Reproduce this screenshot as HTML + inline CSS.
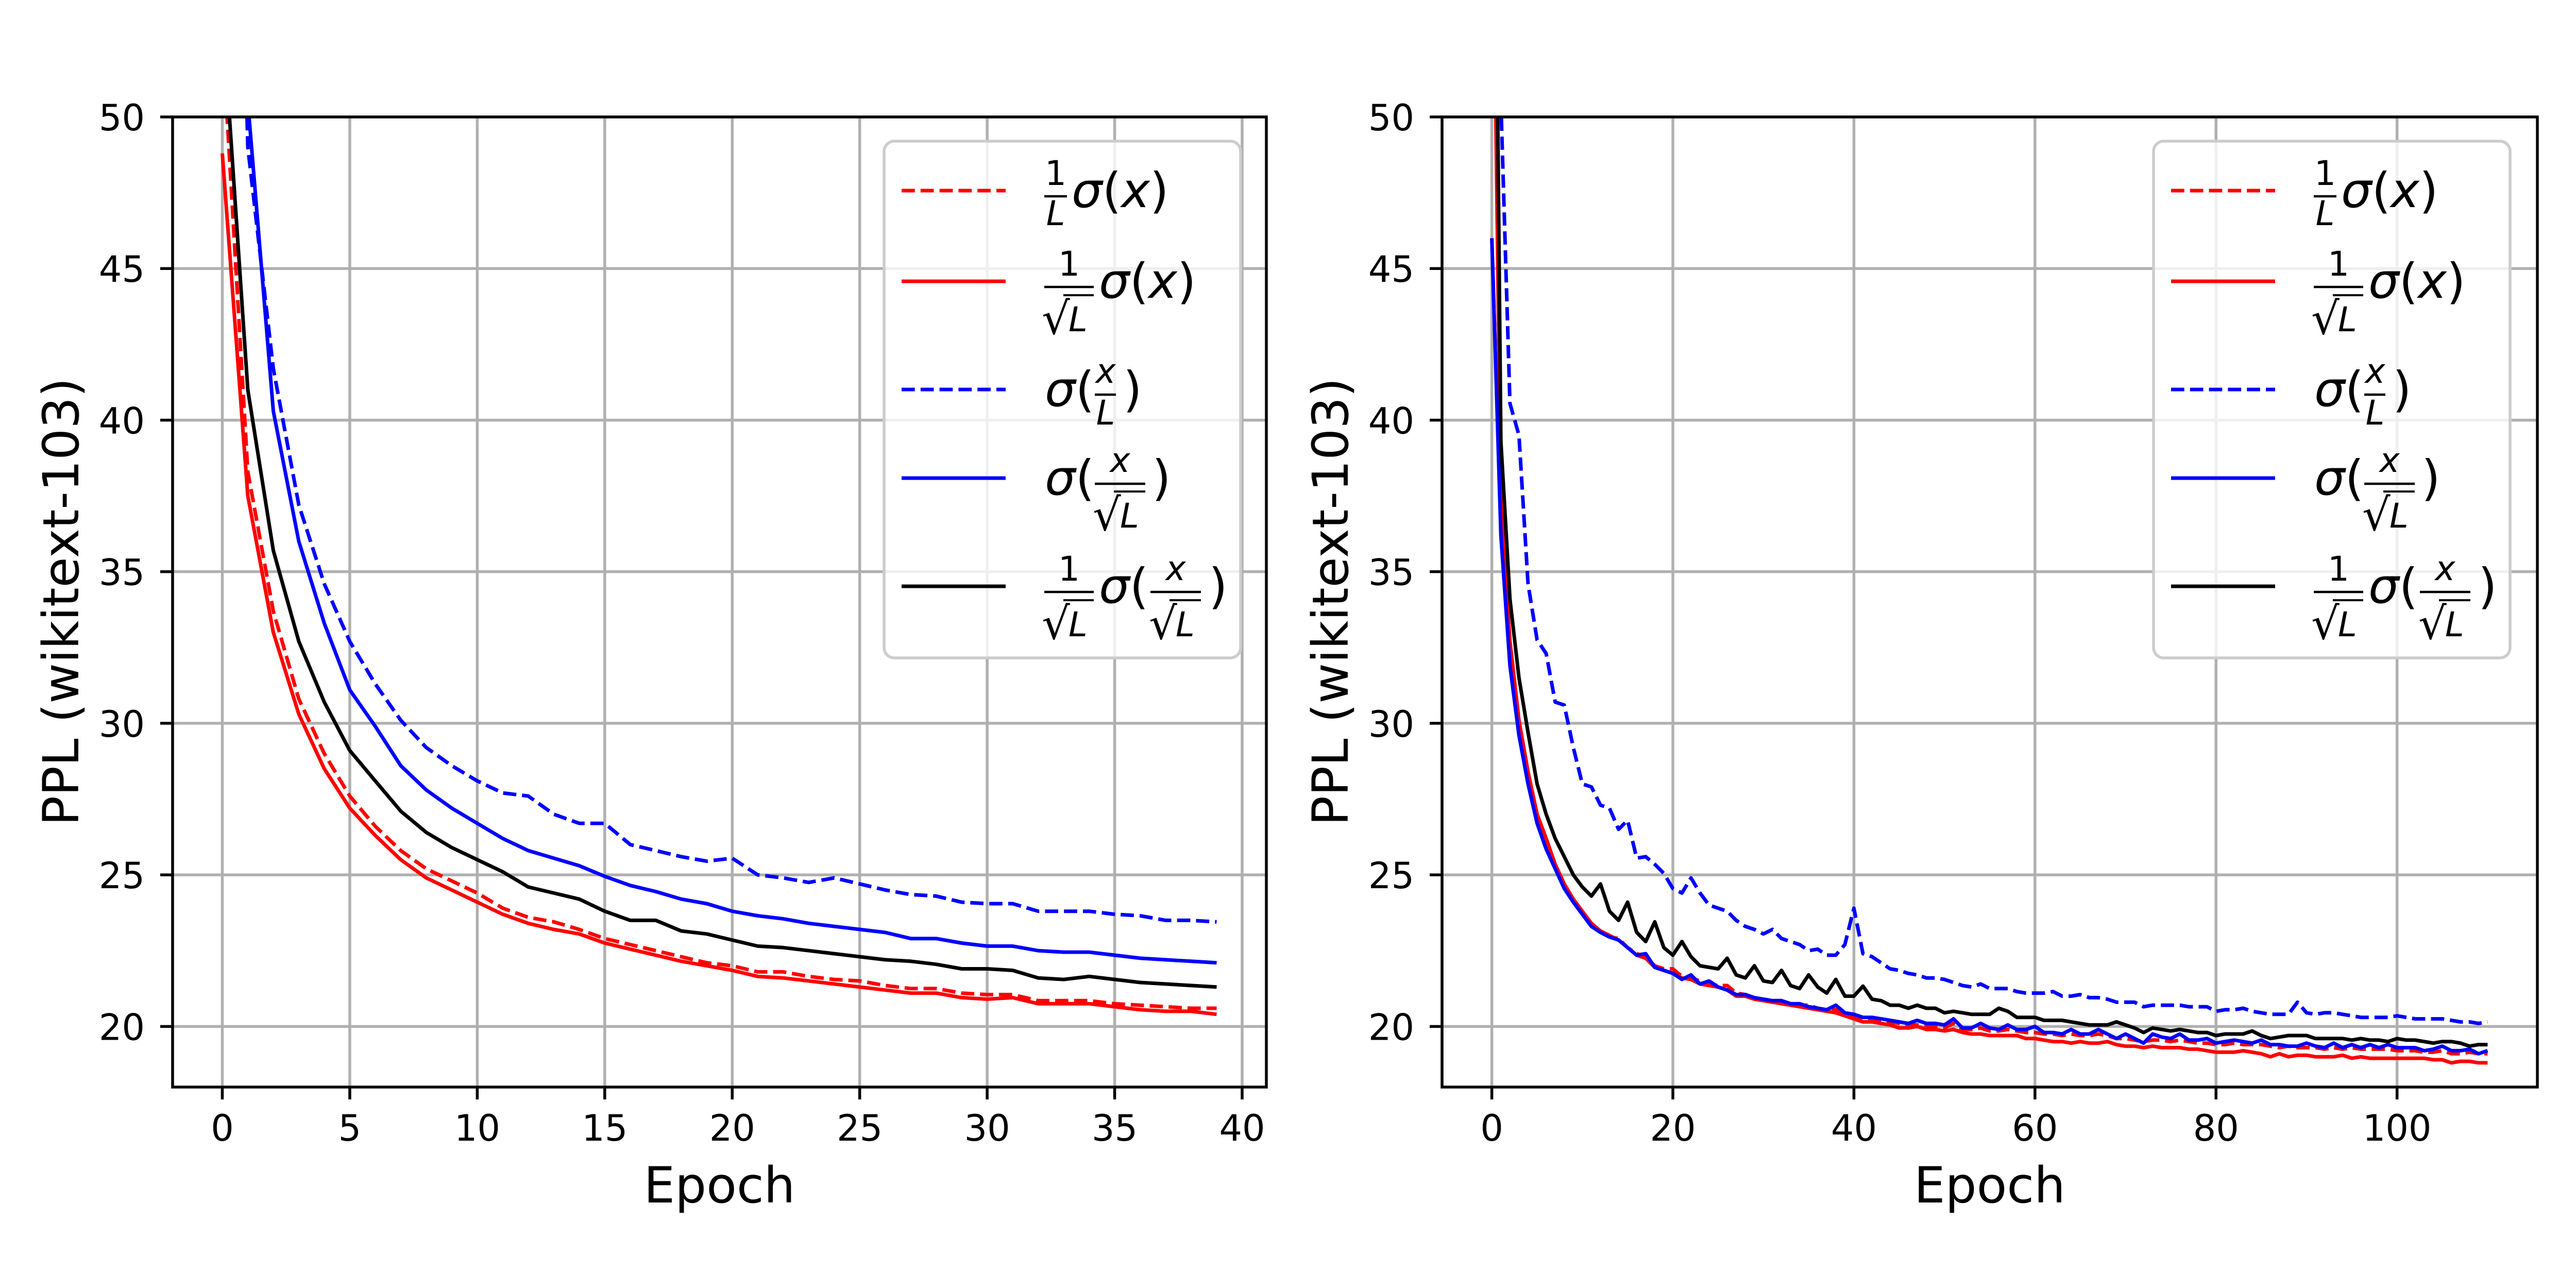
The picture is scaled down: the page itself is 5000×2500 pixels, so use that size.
<!DOCTYPE html>
<html>
<head>
<meta charset="utf-8">
<style>
html,body{margin:0;padding:0;background:#fff;}
svg{display:block;}
text{font-family:"DejaVu Sans","Liberation Sans",sans-serif;}
.it{font-style:oblique;}
</style>
</head>
<body>
<svg id="fig" xmlns="http://www.w3.org/2000/svg" width="5000" height="2500" viewBox="0 0 5000 2500">
<rect x="0" y="0" width="5000" height="2500" fill="#fff"/>
<defs>
<clipPath id="clipL"><rect x="335" y="227" width="2123" height="1883"/></clipPath>
<clipPath id="clipR"><rect x="2799" y="227" width="2126" height="1883"/></clipPath>
</defs>
<g id="root"></g>
</svg>
<script>
// ---------- Data ----------
const yTicks = [20, 25, 30, 35, 40, 45, 50];
const xTicksLeft = [0, 5, 10, 15, 20, 25, 30, 35, 40];
const xTicksRight = [0, 20, 40, 60, 80, 100];
const yLabel = "PPL (wikitext-103)";
const xLabel = "Epoch";

const leftRedDashed = [52.7,38.3,33.7,30.8,29.0,27.6,26.6,25.8,25.2,24.8,24.4,23.9,23.6,23.45,23.2,22.9,22.7,22.5,22.3,22.1,22.0,21.8,21.8,21.65,21.55,21.5,21.35,21.25,21.25,21.1,21.05,21.05,20.85,20.85,20.85,20.75,20.7,20.65,20.6,20.6];
const leftRedSolid = [48.8,37.5,33,30.3,28.5,27.2,26.3,25.5,24.9,24.5,24.1,23.7,23.4,23.2,23.05,22.75,22.55,22.35,22.15,22.0,21.85,21.65,21.6,21.5,21.4,21.3,21.2,21.1,21.1,20.95,20.9,20.95,20.75,20.75,20.75,20.65,20.55,20.5,20.5,20.4];
const leftBlueDashed = [80,49,41.7,37.2,34.6,32.7,31.3,30.1,29.2,28.6,28.1,27.7,27.6,27.0,26.7,26.7,26.0,25.8,25.6,25.45,25.55,25.0,24.9,24.75,24.9,24.7,24.5,24.35,24.3,24.1,24.05,24.05,23.8,23.8,23.8,23.7,23.65,23.5,23.5,23.45];
const leftBlueSolid = [85,50.5,40.3,36.0,33.3,31.1,29.9,28.6,27.8,27.2,26.7,26.2,25.8,25.55,25.3,24.95,24.65,24.45,24.2,24.05,23.8,23.65,23.55,23.4,23.3,23.2,23.1,22.9,22.9,22.75,22.65,22.65,22.5,22.45,22.45,22.35,22.25,22.2,22.15,22.1];
const leftBlack = [53.5,41.0,35.7,32.7,30.7,29.1,28.1,27.1,26.4,25.9,25.5,25.1,24.6,24.4,24.2,23.8,23.5,23.5,23.15,23.05,22.85,22.65,22.6,22.5,22.4,22.3,22.2,22.15,22.05,21.9,21.9,21.85,21.6,21.55,21.65,21.55,21.45,21.4,21.35,21.3];

const rightRedDashed = [46,36.5,32.2,29.8,28.1,26.8,26.0,25.25,24.6,24.15,23.75,23.35,23.1,22.95,22.9,22.6,22.4,22.3,22.0,21.9,21.9,21.65,21.6,21.5,21.4,21.35,21.35,21.1,21.05,20.95,20.9,20.85,20.85,20.75,20.7,20.7,20.6,20.55,20.55,20.45,
20.35,20.25,20.25,20.2,20.15,20.1,20.05,20.05,20.0,20.0,
19.95,20.1,19.9,19.9,19.95,19.85,19.85,19.9,19.85,19.8,
19.8,19.75,19.75,19.7,19.75,19.7,19.7,19.75,19.7,19.6,
19.6,19.55,19.5,19.55,19.55,19.5,19.55,19.5,19.45,19.45,
19.4,19.4,19.45,19.4,19.4,19.4,19.35,19.3,19.35,19.3,
19.3,19.3,19.25,19.3,19.25,19.3,19.25,19.25,19.25,19.25,
19.2,19.2,19.2,19.15,19.15,19.2,19.1,19.1,19.15,19.1,19.1];
const rightRedSolid = [60,37.3,32.7,30.1,28.4,27.0,26.2,25.35,24.7,24.2,23.8,23.4,23.15,23.0,22.85,22.6,22.35,22.25,21.95,21.85,21.75,21.6,21.55,21.4,21.35,21.3,21.2,21.0,21.0,20.9,20.85,20.8,20.75,20.7,20.65,20.6,20.55,20.5,20.45,20.35,
20.25,20.15,20.15,20.1,20.05,19.95,19.95,20.0,19.9,19.9,
19.85,19.9,19.8,19.75,19.75,19.7,19.7,19.7,19.7,19.6,
19.6,19.55,19.5,19.5,19.45,19.5,19.45,19.45,19.5,19.4,
19.35,19.35,19.3,19.35,19.3,19.3,19.3,19.25,19.25,19.2,
19.15,19.15,19.15,19.2,19.15,19.1,19.0,19.1,19.0,19.05,
19.05,19.0,19.0,19.0,19.05,18.95,19.0,18.95,18.95,18.95,
18.95,18.95,18.95,18.95,18.9,18.9,18.8,18.85,18.85,18.8,18.8];
const rightBlueDashed = [90,50.5,40.55,39.5,34.6,32.75,32.3,30.7,30.6,29.2,
28.0,27.9,27.3,27.2,26.5,26.8,25.55,25.6,25.35,25.05,
24.55,24.4,24.9,24.4,24.0,23.9,23.8,23.5,23.3,23.2,
23.05,23.2,22.9,22.8,22.7,22.5,22.55,22.35,22.35,22.7,
23.9,22.4,22.3,22.1,21.9,21.85,21.75,21.7,21.6,21.6,
21.55,21.45,21.35,21.3,21.4,21.25,21.25,21.25,21.15,21.1,
21.1,21.1,21.15,21.0,21.0,21.05,20.95,20.95,20.9,20.8,
20.8,20.8,20.65,20.7,20.7,20.7,20.7,20.65,20.65,20.65,
20.5,20.55,20.55,20.6,20.5,20.45,20.4,20.4,20.4,20.8,
20.45,20.4,20.45,20.45,20.4,20.35,20.3,20.3,20.3,20.3,
20.35,20.3,20.25,20.25,20.25,20.25,20.2,20.15,20.15,20.1,20.15];
const rightBlueSolid = [46,36.2,31.9,29.6,28.0,26.7,25.85,25.2,24.55,24.1,
23.7,23.3,23.1,22.95,22.85,22.6,22.35,22.4,21.95,21.85,
21.75,21.55,21.7,21.4,21.5,21.3,21.2,21.05,21.05,20.95,
20.9,20.85,20.85,20.75,20.75,20.65,20.6,20.55,20.7,20.45,
20.4,20.3,20.3,20.25,20.2,20.15,20.1,20.2,20.1,20.1,
20.05,20.25,19.95,19.95,20.1,19.95,19.9,20.05,19.9,19.9,
20.0,19.8,19.8,19.75,19.9,19.75,19.75,19.9,19.75,19.6,
19.75,19.6,19.45,19.75,19.65,19.6,19.75,19.55,19.55,19.6,
19.45,19.5,19.55,19.5,19.45,19.55,19.4,19.4,19.35,19.35,
19.45,19.35,19.3,19.45,19.3,19.4,19.3,19.4,19.3,19.4,
19.3,19.3,19.3,19.2,19.25,19.35,19.2,19.2,19.25,19.1,19.2];
const rightBlack = [70,39.3,34.1,31.5,29.7,28.0,27.0,26.2,25.6,25.0,
24.6,24.3,24.7,23.8,23.5,24.1,23.1,22.8,23.45,22.6,
22.35,22.8,22.3,22.0,21.95,21.9,22.25,21.7,21.6,22.0,
21.5,21.45,21.85,21.35,21.25,21.7,21.3,21.1,21.55,21.0,
21.0,21.33,20.9,20.85,20.7,20.7,20.6,20.7,20.6,20.6,
20.45,20.5,20.45,20.4,20.4,20.4,20.6,20.5,20.3,20.3,
20.3,20.2,20.2,20.2,20.15,20.1,20.05,20.05,20.05,20.15,
20.05,19.95,19.8,19.95,19.9,19.85,19.9,19.85,19.8,19.8,
19.7,19.75,19.75,19.75,19.85,19.7,19.6,19.65,19.7,19.7,
19.7,19.6,19.6,19.6,19.6,19.55,19.6,19.55,19.55,19.5,
19.6,19.55,19.55,19.5,19.45,19.5,19.5,19.45,19.35,19.4,19.4];

// ---------- Helpers ----------
const NS = "http://www.w3.org/2000/svg";
const root = document.getElementById('root');
function mk(tag, attrs, parent) {
  const e = document.createElementNS(NS, tag);
  for (const k in attrs) e.setAttribute(k, attrs[k]);
  (parent || root).appendChild(e);
  return e;
}
const Y0 = 227, Y1 = 2110, YMIN = 18, YMAX = 50;
function yScale(v) { return Y1 - (v - YMIN) / (YMAX - YMIN) * (Y1 - Y0); }

function drawPanel(cfg) {
  const xs = v => cfg.x0 + (v - cfg.xmin) / (cfg.xmax - cfg.xmin) * (cfg.x1 - cfg.x0);
  const panel = mk('g', {});
  
  
  const grid = mk('g', {stroke: '#b0b0b0', 'stroke-width': 5.5}, panel);
  
  
  cfg.xticks.forEach(t => {
    const gl = mk('line', {x1: xs(t), x2: xs(t), y1: Y0, y2: Y1}, grid);
    
    
  });
  yTicks.forEach(t => {
    const gl = mk('line', {x1: cfg.x0, x2: cfg.x1, y1: yScale(t), y2: yScale(t)}, grid);
    
    
  });
  const sg = mk('g', {'clip-path': 'url(#' + cfg.clip + ')', fill: 'none', 'stroke-width': 7, 'stroke-linejoin': 'round'}, panel);
  
  
  cfg.series.forEach(s => {
    const d = s.data.map((v, i) => (i ? 'L' : 'M') + xs(i).toFixed(1) + ' ' + yScale(v).toFixed(1)).join(' ');
    const p = mk('path', {d: d, stroke: s.color}, sg);
    if (s.dash) { p.setAttribute('stroke-dasharray', '25.7 11.1'); p.setAttribute('stroke-linecap', 'butt'); }
    
    
  });
  const sp = mk('rect', {x: cfg.x0, y: Y0, width: cfg.x1 - cfg.x0, height: Y1 - Y0, fill: 'none', stroke: '#000', 'stroke-width': 5.5}, panel);
  
  
  const tg = mk('g', {}, panel);
  
  
  cfg.xticks.forEach(t => {
    const tl = mk('line', {x1: xs(t), x2: xs(t), y1: Y1, y2: Y1 + 24, stroke: '#000', 'stroke-width': 5.5}, tg);
    
    
    const tx = mk('text', {x: xs(t), y: 2214, 'font-size': 70, 'text-anchor': 'middle', fill: '#000'}, tg);
    tx.textContent = String(t);
    
    
  });
  yTicks.forEach(t => {
    const tl = mk('line', {x1: cfg.x0 - 24, x2: cfg.x0, y1: yScale(t), y2: yScale(t), stroke: '#000', 'stroke-width': 5.5}, tg);
    
    
    const tx = mk('text', {x: cfg.x0 - 54, y: yScale(t) + 26, 'font-size': 70, 'text-anchor': 'end', fill: '#000'}, tg);
    tx.textContent = String(t);
    
    
  });
  const xl = mk('text', {x: (cfg.x0 + cfg.x1) / 2, y: 2334, 'font-size': 96, 'text-anchor': 'middle', fill: '#000'}, panel);
  xl.textContent = xLabel;
  
  
  const yl = mk('text', {x: 0, y: 0, 'font-size': 96, 'text-anchor': 'middle', fill: '#000', transform: 'translate(' + cfg.ylabelX + ',1168) rotate(-90)'}, panel);
  yl.textContent = yLabel;
  
  
  drawLegend(panel, cfg.x0 - 335);
}

function drawLegend(parent, dx) {
  const g = mk('g', {transform: 'translate(' + dx + ',0)'}, parent);
  
  
  g.innerHTML =
  '<rect x="1716" y="274" width="692" height="1003" rx="20" fill="rgba(255,255,255,0.8)" stroke="#cccccc" stroke-width="5.5"/>' +
  '<g>' +
  '<line x1="1750" x2="1952" y1="370" y2="370" stroke="#ff0000" stroke-width="7" stroke-dasharray="25.7 11.1"/>' +
  '<text x="2049" y="359" font-size="66" text-anchor="middle">1</text>' +
  '<line x1="2027" x2="2071" y1="381" y2="381" stroke="#000" stroke-width="4.5"/>' +
  '<text x="2049" y="437" font-size="66" text-anchor="middle" class="it">L</text>' +
  '<text x="2080" y="402" font-size="94"><tspan class="it">σ</tspan>(<tspan class="it">x</tspan>)</text>' +
  '</g>' +
  '<g>' +
  '<line x1="1750" x2="1952" y1="546" y2="546" stroke="#ff0000" stroke-width="7"/>' +
  '<text x="2075" y="535" font-size="66" text-anchor="middle">1</text>' +
  '<line x1="2027" x2="2123" y1="557" y2="557" stroke="#000" stroke-width="4.5"/>' +
  '<text x="2022" y="648" font-size="86">√</text>' +
  '<line x1="2064" x2="2123" y1="573" y2="573" stroke="#000" stroke-width="4"/>' +
  '<text x="2074" y="643" font-size="66" class="it">L</text>' +
  '<text x="2133" y="578" font-size="94"><tspan class="it">σ</tspan>(<tspan class="it">x</tspan>)</text>' +
  '</g>' +
  '<g>' +
  '<line x1="1750" x2="1952" y1="756" y2="756" stroke="#0000ff" stroke-width="7" stroke-dasharray="25.7 11.1"/>' +
  '<text x="2028" y="788" font-size="94"><tspan class="it">σ</tspan>(</text>' +
  '<text x="2146" y="743" font-size="66" text-anchor="middle" class="it">x</text>' +
  '<line x1="2125" x2="2166" y1="766" y2="766" stroke="#000" stroke-width="4.5"/>' +
  '<text x="2146" y="824" font-size="66" text-anchor="middle" class="it">L</text>' +
  '<text x="2180" y="788" font-size="94">)</text>' +
  '</g>' +
  '<g>' +
  '<line x1="1750" x2="1952" y1="928" y2="928" stroke="#0000ff" stroke-width="7"/>' +
  '<text x="2028" y="960" font-size="94"><tspan class="it">σ</tspan>(</text>' +
  '<text x="2174" y="916" font-size="66" text-anchor="middle" class="it">x</text>' +
  '<line x1="2125" x2="2223" y1="939" y2="939" stroke="#000" stroke-width="4.5"/>' +
  '<text x="2121" y="1029" font-size="86">√</text>' +
  '<line x1="2162" x2="2223" y1="954" y2="954" stroke="#000" stroke-width="4"/>' +
  '<text x="2174" y="1024" font-size="66" class="it">L</text>' +
  '<text x="2236" y="960" font-size="94">)</text>' +
  '</g>' +
  '<g>' +
  '<line x1="1750" x2="1952" y1="1138" y2="1138" stroke="#000000" stroke-width="7"/>' +
  '<text x="2075" y="1127" font-size="66" text-anchor="middle">1</text>' +
  '<line x1="2027" x2="2123" y1="1149" y2="1149" stroke="#000" stroke-width="4.5"/>' +
  '<text x="2022" y="1240" font-size="86">√</text>' +
  '<line x1="2064" x2="2123" y1="1165" y2="1165" stroke="#000" stroke-width="4"/>' +
  '<text x="2074" y="1235" font-size="66" class="it">L</text>' +
  '<text x="2133" y="1170" font-size="94"><tspan class="it">σ</tspan>(</text>' +
  '<text x="2282" y="1126" font-size="66" text-anchor="middle" class="it">x</text>' +
  '<line x1="2233" x2="2331" y1="1149" y2="1149" stroke="#000" stroke-width="4.5"/>' +
  '<text x="2230" y="1240" font-size="86">√</text>' +
  '<line x1="2270" x2="2331" y1="1165" y2="1165" stroke="#000" stroke-width="4"/>' +
  '<text x="2282" y="1235" font-size="66" class="it">L</text>' +
  '<text x="2346" y="1170" font-size="94">)</text>' +
  '</g>';
}

drawPanel({
  name: 'left-chart', x0: 335, x1: 2458, xmin: -1.95, xmax: 40.95,
  xticks: xTicksLeft, clip: 'clipL', ylabelX: 152,
  series: [
    {name: 'series-inv-L-sigma-x', data: leftRedDashed, color: '#ff0000', dash: true},
    {name: 'series-inv-sqrtL-sigma-x', data: leftRedSolid, color: '#ff0000', dash: false},
    {name: 'series-sigma-x-over-L', data: leftBlueDashed, color: '#0000ff', dash: true},
    {name: 'series-sigma-x-over-sqrtL', data: leftBlueSolid, color: '#0000ff', dash: false},
    {name: 'series-inv-sqrtL-sigma-x-over-sqrtL', data: leftBlack, color: '#000000', dash: false}
  ]
});
drawPanel({
  name: 'right-chart', x0: 2799, x1: 4925, xmin: -5.5, xmax: 115.5,
  xticks: xTicksRight, clip: 'clipR', ylabelX: 2616,
  series: [
    {name: 'series-inv-L-sigma-x', data: rightRedDashed, color: '#ff0000', dash: true},
    {name: 'series-inv-sqrtL-sigma-x', data: rightRedSolid, color: '#ff0000', dash: false},
    {name: 'series-sigma-x-over-L', data: rightBlueDashed, color: '#0000ff', dash: true},
    {name: 'series-sigma-x-over-sqrtL', data: rightBlueSolid, color: '#0000ff', dash: false},
    {name: 'series-inv-sqrtL-sigma-x-over-sqrtL', data: rightBlack, color: '#000000', dash: false}
  ]
});
</script>
</body>
</html>
